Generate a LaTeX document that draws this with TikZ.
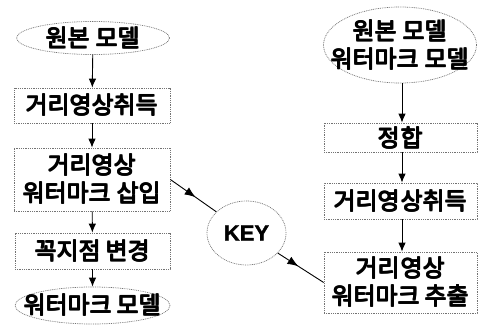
\documentclass[tikz,border=0pt]{standalone}
\usepackage{fontspec}
\newfontfamily\kr{Noto Sans CJK KR}
\newfontfamily\lat{Liberation Sans}[FakeBold=1.5]
\newcommand\fb[1]{\rlap{#1}\rlap{\kern1pt#1}\rlap{\raisebox{1pt}{#1}}\kern1pt\raisebox{1pt}{#1}}
\usetikzlibrary{arrows.meta,shapes.geometric,decorations.markings}
\tikzset{
  box/.style={draw=black!55, dash pattern=on 0.9pt off 0.9pt, line width=0.7pt,
    inner sep=0pt, align=center, font=\kr\fontsize{24}{28}\selectfont},
  oval/.style={box, ellipse, inner xsep=-26pt, inner ysep=0pt},
  arr/.style={-{Latex[length=9pt,width=7.5pt]}, line width=0.9pt},
  midarr/.style={line width=0.9pt, postaction={decorate},
    decoration={markings, mark=at position #1 with {\arrow{Latex[length=11pt,width=8.5pt]}}}}
}
\begin{document}
\begin{tikzpicture}[x=1pt,y=-1pt]
\useasboundingbox (0,0) rectangle (479,334);
% left column
\node[oval, minimum width=153pt, minimum height=33pt] (l1) at (93,38) {\fb{원본 모델}};
\node[box, minimum width=156pt, minimum height=35pt] (l2) at (92,105.5) {\fb{거리영상취득}};
\node[box, minimum width=156pt, minimum height=63pt] (l3) at (92,179.5) {\fb{거리영상}\\\fb{워터마크 삽입}};
\node[box, minimum width=155pt, minimum height=36pt] (l4) at (92.5,251) {\fb{꼭지점 변경}};
\node[oval, minimum width=155pt, minimum height=37pt] (l5) at (92.5,305.5) {\fb{워터마크 모델}};
% right column
\node[oval, minimum width=153pt, minimum height=76pt] (r1) at (400,45) {\fb{원본 모델}\\\fb{워터마크 모델}};
\node[box, minimum width=153pt, minimum height=29pt] (r2) at (400.5,137.5) {\fb{정합}};
\node[box, minimum width=153pt, minimum height=36pt] (r3) at (400.5,201) {\fb{거리영상취득}};
\node[box, minimum width=153pt, minimum height=61pt] (r4) at (400.5,282.5) {\fb{거리영상}\\\fb{워터마크 추출}};
% key
\node[box, ellipse, minimum width=79pt, minimum height=64pt, font=\lat\bfseries\fontsize{22}{26}\selectfont] (key) at (246.5,233) {KEY};
% connectors
\draw[arr] (l1) -- (l2);
\draw[arr] (l2) -- (l3);
\draw[arr] (l3) -- (l4);
\draw[arr] (l4) -- (l5);
\draw[arr] (r1.south -| r2.north) ++(1.5,0) coordinate (rt) -- (rt |- r2.north);
\draw[arr] (r2.south) ++(1.5,0) coordinate (rs) -- (rs |- r3.north);
\draw[arr] (r3.south) ++(1.5,0) coordinate (ru) -- (ru |- r4.north);
\draw[midarr=0.55] (l3.east) -- (key);
\draw[midarr=0.45] (key) -- (r4.west);
\end{tikzpicture}
\end{document}
